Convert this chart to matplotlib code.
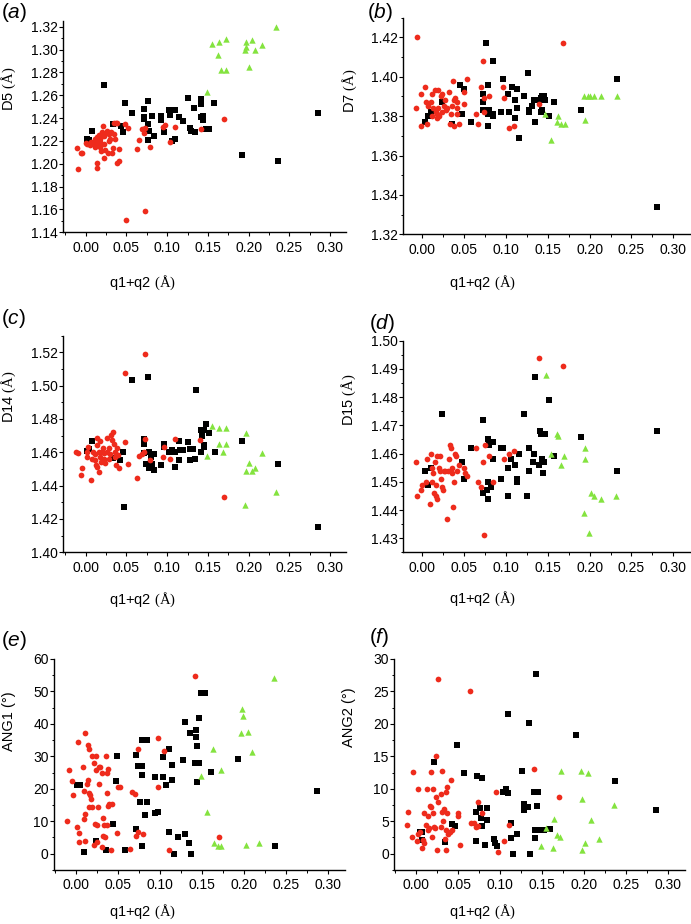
import numpy as np
import matplotlib
matplotlib.use("Agg")
import matplotlib.pyplot as plt
from matplotlib.ticker import MultipleLocator, FormatStrFormatter

plt.rcParams['font.family'] = ['Liberation Sans', 'DejaVu Sans']
plt.rcParams['mathtext.fontset'] = 'custom'
plt.rcParams['mathtext.rm'] = 'Liberation Serif'
plt.rcParams['mathtext.it'] = 'Liberation Sans:italic'

# ---------------- data (x = q1+q2, y = parameter) ----------------
A_BLACK = [(0.022,1.269),(0.002,1.222),(0.008,1.229),(0.033,1.235),(0.043,1.233),(0.046,1.228),
           (0.048,1.253),(0.057,1.244),(0.071,1.248),(0.071,1.241),(0.072,1.239),(0.077,1.255),
           (0.077,1.235),(0.078,1.229),(0.077,1.221),(0.081,1.242),(0.084,1.224),(0.093,1.242),
           (0.093,1.238),(0.096,1.228),(0.102,1.247),(0.103,1.243),(0.110,1.247),(0.110,1.222),
           (0.106,1.220),(0.114,1.241),(0.120,1.237),(0.125,1.258),(0.128,1.231),(0.129,1.229),
           (0.133,1.249),(0.134,1.228),(0.141,1.257),(0.141,1.252),(0.141,1.241),(0.144,1.242),
           (0.144,1.238),(0.148,1.230),(0.151,1.230),(0.158,1.253),(0.192,1.208),(0.236,1.202),
           (0.285,1.244),(0.004,1.221)]
A_RED = [(-0.011,1.214),(-0.009,1.195),(-0.006,1.209),(-0.004,1.209),(0.0004,1.218),(0.002,1.217),
         (0.005,1.216),(0.006,1.219),(0.009,1.218),(0.011,1.222),(0.011,1.215),(0.014,1.223),
         (0.014,1.218),(0.014,1.201),(0.014,1.196),(0.016,1.225),(0.018,1.222),(0.018,1.219),
         (0.018,1.215),(0.019,1.211),(0.020,1.228),(0.021,1.233),(0.023,1.224),(0.022,1.205),
         (0.023,1.217),(0.024,1.212),(0.025,1.227),(0.026,1.229),(0.027,1.209),(0.028,1.220),
         (0.029,1.226),(0.030,1.222),(0.031,1.228),(0.032,1.209),(0.033,1.214),(0.035,1.236),
         (0.035,1.226),(0.036,1.222),(0.037,1.236),(0.038,1.201),(0.039,1.236),(0.041,1.213),
         (0.041,1.202),(0.048,1.235),(0.052,1.231),(0.049,1.151),(0.063,1.213),(0.065,1.221),
         (0.069,1.230),(0.071,1.227),(0.073,1.231),(0.073,1.159),(0.079,1.215),(0.097,1.234),
         (0.095,1.232),(0.104,1.219),(0.110,1.232),(0.141,1.230),(0.170,1.239)]
A_GREEN = [(0.1545,1.305),(0.1635,1.307),(0.172,1.309),(0.163,1.295),(0.166,1.282),(0.172,1.282),
           (0.149,1.263),(0.197,1.307),(0.197,1.302),(0.196,1.300),(0.204,1.308),(0.208,1.300),
           (0.217,1.304),(0.200,1.285),(0.234,1.320)]

B_BLACK = [(0.003,1.377),(0.007,1.380),(0.010,1.382),(0.023,1.387),(0.035,1.376),(0.045,1.396),
           (0.048,1.381),(0.050,1.394),(0.058,1.377),(0.072,1.391),(0.072,1.387),(0.073,1.383),
           (0.0765,1.417),(0.079,1.396),(0.078,1.381),(0.078,1.375),(0.080,1.383),(0.085,1.408),
           (0.084,1.381),(0.085,1.380),(0.094,1.382),(0.097,1.399),(0.102,1.391),(0.104,1.382),
           (0.107,1.395),(0.111,1.388),(0.111,1.379),(0.1135,1.394),(0.1135,1.384),(0.1155,1.369),
           (0.121,1.390),(0.126,1.402),(0.128,1.383),(0.128,1.382),(0.131,1.385),(0.134,1.388),
           (0.135,1.377),(0.139,1.388),(0.142,1.389),(0.143,1.390),(0.142,1.382),(0.143,1.383),
           (0.145,1.390),(0.147,1.388),(0.151,1.380),(0.157,1.387),(0.190,1.383),(0.233,1.399),
           (0.281,1.334)]
B_RED = [(-0.006,1.420),(-0.008,1.384),(-0.002,1.375),(-0.001,1.391),(0.0036,1.395),(0.005,1.387),
         (0.006,1.376),(0.007,1.385),(0.010,1.387),(0.011,1.391),(0.012,1.380),(0.013,1.384),
         (0.015,1.393),(0.016,1.382),(0.017,1.379),(0.018,1.381),(0.019,1.393),(0.019,1.384),
         (0.020,1.380),(0.022,1.390),(0.023,1.382),(0.024,1.391),(0.0255,1.385),(0.027,1.388),
         (0.028,1.383),(0.029,1.384),(0.032,1.392),(0.033,1.376),(0.034,1.381),(0.035,1.385),
         (0.037,1.398),(0.038,1.388),(0.038,1.375),(0.039,1.389),(0.041,1.384),(0.041,1.381),
         (0.044,1.376),(0.042,1.387),(0.050,1.392),(0.050,1.386),(0.054,1.399),(0.066,1.376),
         (0.064,1.381),(0.070,1.395),(0.072,1.408),(0.074,1.382),(0.074,1.389),(0.080,1.390),
         (0.096,1.395),(0.098,1.389),(0.104,1.374),(0.110,1.375),(0.140,1.386),(0.1685,1.417)]
B_GREEN = [(0.147,1.381),(0.154,1.368),(0.162,1.380),(0.161,1.377),(0.166,1.376),(0.1705,1.376),
           (0.193,1.390),(0.195,1.378),(0.198,1.390),(0.201,1.390),(0.2056,1.390),(0.214,1.390),
           (0.233,1.390)]

C_BLACK = [(0.001,1.461),(0.004,1.462),(0.008,1.467),(0.033,1.4564),(0.042,1.4552),(0.046,1.4604),
           (0.0475,1.427),(0.057,1.5032),(0.071,1.468),(0.071,1.4648),(0.071,1.4594),(0.074,1.4532),
           (0.0775,1.4604),(0.077,1.5054),(0.078,1.4504),(0.080,1.4574),(0.081,1.4532),(0.084,1.4592),
           (0.084,1.4492),(0.093,1.4524),(0.096,1.4652),(0.096,1.463),(0.1025,1.4604),(0.106,1.4612),
           (0.110,1.4604),(0.110,1.451),(0.1143,1.467),(0.114,1.4552),(0.116,1.4612),(0.120,1.4612),
           (0.1254,1.4664),(0.128,1.4622),(0.128,1.4552),(0.1316,1.4622),(0.134,1.4562),(0.135,1.4974),
           (0.141,1.4604),(0.141,1.4734),(0.143,1.4698),(0.1447,1.4734),(0.1447,1.4644),(0.1447,1.463),
           (0.1475,1.477),(0.151,1.4714),(0.1586,1.4604),(0.192,1.4666),(0.236,1.453),(0.2857,1.415)]
C_RED = [(-0.0115,1.4604),(-0.0098,1.4594),(-0.005,1.4504),(-0.006,1.4462),(0.002,1.4604),(0.002,1.4574),
         (0.003,1.4634),(0.006,1.4432),(0.008,1.456),(0.0086,1.4604),(0.011,1.4588),(0.0115,1.4552),
         (0.0123,1.4524),(0.0135,1.4644),(0.0135,1.4684),(0.014,1.4512),(0.016,1.4604),(0.0168,1.4484),
         (0.0176,1.4666),(0.018,1.4574),(0.019,1.4544),(0.020,1.4604),(0.0217,1.4624),(0.0225,1.456),
         (0.023,1.4594),(0.024,1.4538),(0.026,1.4604),(0.0266,1.4684),(0.028,1.456),(0.029,1.4624),
         (0.030,1.4588),(0.031,1.4704),(0.032,1.4674),(0.034,1.4724),(0.035,1.4648),(0.0357,1.4604),
         (0.0365,1.4574),(0.037,1.4524),(0.039,1.4624),(0.040,1.4584),(0.041,1.4504),(0.0484,1.4664),
         (0.0488,1.5074),(0.0516,1.4532),(0.0627,1.4444),(0.065,1.4578),(0.0689,1.459),(0.0717,1.46),
         (0.073,1.468),(0.073,1.519),(0.0795,1.4552),(0.0967,1.463),(0.0955,1.4574),(0.1037,1.456),
         (0.110,1.468),(0.140,1.4672),(0.170,1.4332)]
C_GREEN = [(0.1545,1.4756),(0.1635,1.4744),(0.172,1.4744),(0.149,1.4578),(0.1635,1.465),(0.168,1.4604),
           (0.172,1.4648),(0.197,1.4714),(0.200,1.4536),(0.197,1.4486),(0.204,1.4486),(0.208,1.4504),
           (0.217,1.4596),(0.196,1.4284),(0.234,1.4364)]

D_BLACK = [(0.0036,1.454),(0.007,1.449),(0.010,1.455),(0.024,1.474),(0.048,1.457),(0.050,1.451),
           (0.058,1.462),(0.072,1.472),(0.072,1.446),(0.077,1.447),(0.078,1.444),(0.079,1.450),
           (0.079,1.465),(0.080,1.463),(0.082,1.448),(0.085,1.464),(0.085,1.458),(0.094,1.462),
           (0.094,1.451),(0.097,1.462),(0.103,1.445),(0.103,1.455),(0.106,1.458),(0.111,1.456),
           (0.113,1.451),(0.1135,1.450),(0.115,1.460),(0.121,1.474),(0.125,1.445),(0.128,1.462),
           (0.128,1.454),(0.132,1.457),(0.134,1.460),(0.135,1.487),(0.140,1.456),(0.141,1.468),
           (0.142,1.467),(0.143,1.458),(0.144,1.453),(0.145,1.457),(0.147,1.467),(0.151,1.479),
           (0.157,1.459),(0.190,1.466),(0.233,1.454),(0.281,1.468)]
D_RED = [(-0.008,1.457),(-0.006,1.445),(-0.002,1.447),(0.000,1.449),(0.005,1.450),(0.006,1.458),
         (0.0096,1.442),(0.010,1.460),(0.012,1.455),(0.012,1.450),(0.013,1.453),(0.0135,1.446),
         (0.015,1.457),(0.016,1.449),(0.0167,1.445),(0.0175,1.444),(0.018,1.459),(0.0195,1.455),
         (0.0207,1.459),(0.0215,1.454),(0.0227,1.451),(0.0235,1.448),(0.0247,1.447),(0.0255,1.454),
         (0.027,1.454),(0.0295,1.437),(0.0307,1.454),(0.032,1.458),(0.033,1.463),(0.034,1.462),
         (0.035,1.455),(0.036,1.453),(0.0367,1.441),(0.038,1.450),(0.039,1.460),(0.0406,1.459),
         (0.042,1.454),(0.0438,1.456),(0.050,1.455),(0.051,1.453),(0.054,1.452),(0.0645,1.462),
         (0.066,1.450),(0.070,1.448),(0.072,1.457),(0.0745,1.463),(0.074,1.431),(0.080,1.459),
         (0.0845,1.450),(0.098,1.458),(0.104,1.460),(0.110,1.461),(0.140,1.494),(0.1685,1.491)]
D_GREEN = [(0.1474,1.488),(0.161,1.467),(0.1625,1.4662),(0.154,1.460),(0.1697,1.459),(0.166,1.456),
           (0.194,1.462),(0.194,1.458),(0.202,1.446),(0.205,1.445),(0.214,1.444),(0.232,1.445),
           (0.193,1.439),(0.199,1.432)]

E_BLACK = [(0.005,21.3),(0.009,0.4),(0.0234,3.9),(0.0357,1.1),(0.044,9.0),(0.047,22.3),(0.049,30.0),
           (0.058,1.2),(0.0717,30.3),(0.0717,7.6),(0.0737,27.0),(0.076,15.8),(0.078,35.1),(0.078,2.3),
           (0.079,27.0),(0.079,24.3),(0.0824,11.9),(0.0844,35.1),(0.085,15.8),(0.094,23.7),(0.094,12.4),
           (0.0975,13.0),(0.103,23.7),(0.104,29.8),(0.107,21.3),(0.111,6.8),(0.111,32.2),(0.114,27.3),
           (0.1145,22.6),(0.1165,0.0),(0.1217,5.2),(0.127,28.8),(0.1296,40.6),(0.1296,6.0),(0.134,3.2),
           (0.1355,37.3),(0.1363,0.0),(0.1427,38.2),(0.1427,36.0),(0.1419,27.8),(0.144,33.2),(0.1443,22.0),
           (0.146,41.7),(0.146,27.8),(0.1486,49.6),(0.153,49.6),(0.160,25.1),(0.1926,29.1),(0.237,2.4),
           (0.286,19.3),(0.001,21.3)]
E_RED = [(-0.0107,10.2),(-0.0083,25.7),(-0.0048,22.3),(-0.0036,18.0),(0.0016,8.3),(0.0028,34.4),
         (0.0036,6.3),(0.004,3.5),(0.008,26.8),(0.009,10.8),(0.009,19.4),(0.0107,37.1),(0.011,12.2),
         (0.011,4.0),(0.0135,21.4),(0.0139,22.8),(0.0147,33.5),(0.015,18.8),(0.016,32.2),(0.016,14.5),
         (0.0166,18.1),(0.0178,16.8),(0.0186,30.0),(0.0194,14.5),(0.021,2.6),(0.0214,27.8),(0.0222,9.3),
         (0.0234,30.0),(0.0234,25.7),(0.0246,8.8),(0.025,3.5),(0.0258,14.5),(0.0273,26.8),(0.0273,21.5),
         (0.0285,26.6),(0.0305,24.8),(0.031,2.0),(0.032,10.9),(0.0325,5.4),(0.0333,8.7),(0.0345,5.3),
         (0.0357,30.0),(0.0365,8.7),(0.0369,24.8),(0.037,18.6),(0.0377,14.8),(0.0384,26.0),(0.039,15.4),
         (0.042,1.1),(0.0424,15.2),(0.049,6.3),(0.050,20.7),(0.0527,20.6),(0.0638,1.4),(0.066,18.9),
         (0.070,18.5),(0.0717,5.5),(0.074,32.2),(0.0737,6.8),(0.080,6.1),(0.0975,20.5),(0.0975,35.8),
         (0.105,31.5),(0.111,1.1),(0.1415,54.7),(0.170,5.1)]
E_GREEN = [(0.149,23.8),(0.156,13.0),(0.163,32.2),(0.1645,3.3),(0.169,2.4),(0.1724,25.7),(0.173,2.4),
           (0.197,44.5),(0.198,42.3),(0.1966,37.1),(0.2045,37.5),(0.202,2.6),(0.209,31.2),(0.218,3.2),
           (0.236,54.1)]

F_BLACK = [(0.0055,3.4),(0.008,3.4),(0.008,2.1),(0.022,14.1),(0.035,1.8),(0.0435,4.5),(0.0467,4.3),
           (0.0487,16.8),(0.0574,12.5),(0.0716,2.0),(0.0716,6.5),(0.0728,11.9),(0.0764,7.0),(0.0784,11.7),
           (0.0776,5.5),(0.0784,4.2),(0.082,1.3),(0.0843,7.0),(0.0847,5.2),(0.0934,2.3),(0.0938,1.7),
           (0.0966,1.2),(0.1037,9.5),(0.1068,9.9),(0.110,9.3),(0.110,21.5),(0.1132,4.8),(0.1132,2.4),
           (0.116,0.0),(0.1203,3.1),(0.1258,12.7),(0.1286,6.7),(0.1286,7.6),(0.133,7.2),(0.1345,20.2),
           (0.136,0.0),(0.140,9.5),(0.1417,3.6),(0.1417,2.4),(0.1448,9.5),(0.1437,7.4),(0.1429,27.7),
           (0.1476,3.6),(0.152,3.6),(0.159,3.8),(0.1907,18.3),(0.2362,11.2),(0.2857,6.7)]
F_RED = [(-0.0107,4.4),(-0.0087,6.5),(-0.0047,2.6),(-0.0036,12.6),(0.0012,2.0),(0.0028,3.0),(0.003,10.0),
         (0.0047,3.4),(0.007,0.9),(0.0083,2.1),(0.0099,6.3),(0.0103,1.6),(0.0127,4.4),(0.0131,10.0),
         (0.0142,5.8),(0.0146,3.6),(0.0162,3.9),(0.017,7.4),(0.0178,7.2),(0.0186,12.6),(0.0194,2.5),
         (0.0202,6.3),(0.021,10.0),(0.0218,4.1),(0.0233,3.9),(0.0237,8.7),(0.0241,15.0),(0.0249,0.5),
         (0.0265,8.0),(0.0269,26.9),(0.030,4.1),(0.030,9.2),(0.0309,12.8),(0.0317,6.5),(0.0324,5.0),
         (0.0336,6.9),(0.0344,2.3),(0.0356,3.6),(0.036,9.5),(0.0364,0.5),(0.0372,10.3),(0.0376,6.3),
         (0.0388,3.1),(0.0404,3.4),(0.0416,11.4),(0.0427,3.6),(0.0499,6.3),(0.0507,5.8),(0.0526,1.4),
         (0.0641,25.0),(0.0653,4.7),(0.069,4.8),(0.0712,4.1),(0.0736,8.0),(0.0744,4.2),(0.0791,6.2),
         (0.0954,9.5),(0.0981,0.2),(0.1045,1.9),(0.1108,4.4),(0.1409,13.1),(0.1706,8.7)]
F_GREEN = [(0.149,1.2),(0.1547,3.9),(0.1634,0.9),(0.1642,5.4),(0.168,2.9),(0.1717,2.6),(0.172,12.8),
           (0.1963,12.7),(0.1975,8.4),(0.1975,0.5),(0.2014,1.6),(0.2042,12.5),(0.2081,5.2),(0.2177,2.3),
           (0.2355,7.5)]

PANEL_LETTERS = ['a', 'b', 'c', 'd', 'e', 'f']
Y_LABELS = ['D5', 'D7', 'D14', 'D15', 'ANG1', 'ANG2']
X_LABEL = 'q1+q2'

# ---------------- layout (pixels) ----------------
W, H = 691, 924
fig = plt.figure(figsize=(W / 100, H / 100), dpi=100)

RED = '#ee2b1c'
GREEN = '#84e33f'
BLACK = '#000000'

panels = [
    dict(d=(A_BLACK, A_RED, A_GREEN), x0=85.7, xs=814.4, xlim=(-0.0275, 0.32),
         yr=1.32, yp=26.7, ys=1142, ylim=(1.14, 1.325), ymaj=0.02, fmt='%.2f'),
    dict(d=(B_BLACK, B_RED, B_GREEN), x0=422.3, xs=836.7, xlim=(-0.0227, 0.32),
         yr=1.32, yp=234.3, ys=1970, ylim=(1.32, 1.43), ymaj=0.02, fmt='%.2f'),
    dict(d=(C_BLACK, C_RED, C_GREEN), x0=85.7, xs=814.4, xlim=(-0.0275, 0.32),
         yr=1.40, yp=552.3, ys=1667, ylim=(1.40, 1.53), ymaj=0.02, fmt='%.2f'),
    dict(d=(D_BLACK, D_RED, D_GREEN), x0=422.3, xs=836.7, xlim=(-0.0227, 0.32),
         yr=1.43, yp=538.3, ys=2823, ylim=(1.425, 1.50), ymaj=0.01, fmt='%.2f'),
    dict(d=(E_BLACK, E_RED, E_GREEN), x0=76.0, xs=841.0, xlim=(-0.0258, 0.32),
         yr=0.0, yp=853.7, ys=3.245, ylim=(-5, 60), ymaj=10, fmt='%d'),
    dict(d=(F_BLACK, F_RED, F_GREEN), x0=415.7, xs=842.0, xlim=(-0.0254, 0.32),
         yr=0.0, yp=853.7, ys=6.49, ylim=(-2.5, 30), ymaj=5, fmt='%d'),
]

letter_pos = [(1, 1), (367, 1), (1, 307), (369, 312), (1, 629), (369, 626)]
xlabel_pos = [(142, 283), (482, 283), (142, 600), (482, 599), (142, 912), (482, 912)]
ylabel_pos = [(9, 89), (350, 91), (9, 397), (349, 400), (9, 721), (349, 717)]
yunits = [r'$\mathrm{(Å)}$'] * 4 + ['(°)'] * 2

for i, p in enumerate(panels):
    left = p['x0'] + p['xlim'][0] * p['xs']
    right = p['x0'] + p['xlim'][1] * p['xs']
    top = p['yp'] - (p['ylim'][1] - p['yr']) * p['ys']
    bottom = p['yp'] - (p['ylim'][0] - p['yr']) * p['ys']
    ax = fig.add_axes([left / W, 1 - bottom / H, (right - left) / W, (bottom - top) / H])
    blk, red, grn = [np.array(s) for s in p['d']]
    ax.scatter(blk[:, 0], blk[:, 1], marker='s', s=13, c=BLACK, linewidths=0, zorder=3)
    ax.scatter(red[:, 0], red[:, 1], marker='o', s=17, c=RED, linewidths=0, zorder=3)
    ax.scatter(grn[:, 0], grn[:, 1], marker='^', s=21, c=GREEN, linewidths=0, zorder=3)
    ax.set_xlim(*p['xlim'])
    ax.set_ylim(*p['ylim'])
    for sp in ['top', 'right']:
        ax.spines[sp].set_visible(False)
    for sp in ['left', 'bottom']:
        ax.spines[sp].set_linewidth(1.0)
    ax.xaxis.set_major_locator(MultipleLocator(0.05))
    ax.xaxis.set_minor_locator(MultipleLocator(0.025))
    ax.yaxis.set_major_locator(MultipleLocator(p['ymaj']))
    ax.yaxis.set_minor_locator(MultipleLocator(p['ymaj'] / 2))
    ax.xaxis.set_major_formatter(FormatStrFormatter('%.2f'))
    ax.yaxis.set_major_formatter(FormatStrFormatter(p['fmt']))
    ax.tick_params(which='major', direction='out', length=3.0, width=0.8, labelsize=10)
    ax.tick_params(which='minor', direction='out', length=1.8, width=0.7)
    ax.tick_params(axis='x', which='major', pad=3)
    ax.tick_params(axis='y', which='major', pad=1)
    ax.patch.set_alpha(0)

    lx, ly = letter_pos[i]
    fig.text(lx / W, 1 - ly / H, '(' + r'$\mathit{' + PANEL_LETTERS[i] + '}$' + ')',
             fontsize=15, ha='left', va='top')
    xx, xy = xlabel_pos[i]
    fig.text(xx / W, 1 - xy / H, X_LABEL + ' ' + r'$\mathrm{(Å)}$', fontsize=10.5,
             ha='center', va='center')
    yx, yy = ylabel_pos[i]
    fig.text(yx / W, 1 - yy / H, Y_LABELS[i] + ' ' + yunits[i], fontsize=10.5,
             ha='center', va='center', rotation=90)

fig.savefig('out.png', dpi=100)
